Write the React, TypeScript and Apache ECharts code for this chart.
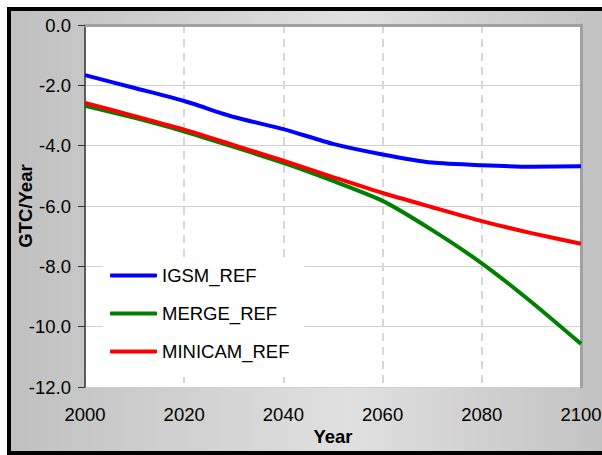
import React, { useEffect, useRef } from "react";
import * as echarts from "echarts";

const years = [2000, 2010, 2020, 2030, 2040, 2050, 2060, 2070, 2080, 2090, 2100];
const igsmRef = [-1.66, -2.09, -2.52, -3.05, -3.45, -3.94, -4.29, -4.56, -4.65, -4.7, -4.68];
const mergeRef = [-2.68, -3.08, -3.53, -4.04, -4.57, -5.17, -5.83, -6.8, -7.9, -9.18, -10.57];
const minicamRef = [-2.58, -3.02, -3.47, -3.98, -4.5, -5.04, -5.57, -6.04, -6.5, -6.9, -7.25];
const seriesNames = ["IGSM_REF", "MERGE_REF", "MINICAM_REF"];
const seriesColors = ["#0000ff", "#008000", "#ff0000"];
const yTicks = { min: -12, max: 0, interval: 2 };
const xTicks = { min: 2000, max: 2100, interval: 20 };

const FONT = "Arial, 'Liberation Sans', sans-serif";

export default function App() {
  const ref = useRef<HTMLDivElement>(null);
  useEffect(() => {
    if (!ref.current) return;
    const chart = echarts.init(ref.current, null, { renderer: "svg" });
    const allData = [igsmRef, mergeRef, minicamRef];
    chart.setOption({
      animation: false,
      backgroundColor: "transparent",
      grid: {
        left: 85,
        top: 25,
        width: 496,
        height: 362,
        containLabel: false,
        outerBoundsMode: "none",
        show: true,
        backgroundColor: "#ffffff",
        borderWidth: 0,
      },
      legend: {
        orient: "vertical",
        left: 103,
        top: 257,
        padding: [9, 15, 16, 7],
        backgroundColor: "#ffffff",
        itemGap: 19,
        itemWidth: 47,
        itemHeight: 4,
        itemTextGap: 3,
        icon: "roundRect",
        data: seriesNames,
        textStyle: { fontFamily: FONT, fontSize: 18.5, color: "#000", lineHeight: 19 },
      },
      xAxis: [
        {
          type: "value",
          min: xTicks.min,
          max: xTicks.max,
          interval: xTicks.interval,
          name: "Year",
          nameLocation: "middle",
          nameGap: 40,
          nameMoveOverlap: false,
          nameTextStyle: { fontFamily: FONT, fontSize: 18.5, fontWeight: "bold", color: "#000" },
          axisLine: { show: true, lineStyle: { color: "#a0a0a0", width: 2 } },
          axisTick: { show: false },
          axisLabel: {
            fontFamily: FONT,
            fontSize: 18.5,
            color: "#000",
            margin: 18,
            formatter: (v: number) => String(v),
          },
          splitLine: { show: true, lineStyle: { color: "#d8d8d8", width: 2, type: [8, 6] } },
        },
        {
          type: "value",
          position: "top",
          min: xTicks.min,
          max: xTicks.max,
          axisLine: { show: true, lineStyle: { color: "#a0a0a0", width: 3 } },
          axisTick: { show: false },
          axisLabel: { show: false },
          splitLine: { show: false },
        },
      ],
      yAxis: [
        {
          type: "value",
          min: yTicks.min,
          max: yTicks.max,
          interval: yTicks.interval,
          name: "GTC/Year",
          nameLocation: "middle",
          nameGap: 50,
          nameMoveOverlap: false,
          nameTextStyle: { fontFamily: FONT, fontSize: 18.5, fontWeight: "bold", color: "#000" },
          axisLine: { show: true, lineStyle: { color: "#303030", width: 1.5 } },
          axisTick: { show: true, length: 7, lineStyle: { color: "#303030" } },
          axisLabel: {
            fontFamily: FONT,
            fontSize: 18.5,
            color: "#000",
            margin: 14,
            formatter: (v: number) => v.toFixed(1),
          },
          splitLine: { show: true, lineStyle: { color: "#d0d0d0", width: 1 } },
        },
        {
          type: "value",
          position: "right",
          min: yTicks.min,
          max: yTicks.max,
          axisLine: { show: true, lineStyle: { color: "#a0a0a0", width: 3 } },
          axisTick: { show: false },
          axisLabel: { show: false },
          splitLine: { show: false },
        },
      ],
      series: seriesNames.map((name, i) => ({
        name,
        type: "line",
        xAxisIndex: 0,
        yAxisIndex: 0,
        smooth: 0.2,
        showSymbol: false,
        symbol: "none",
        color: seriesColors[i],
        lineStyle: { color: seriesColors[i], width: 4 },
        data: years.map((y, j) => [y, allData[i][j]]),
      })),
    });
    return () => chart.dispose();
  }, []);

  return (
    <div style={{ position: "absolute", left: 0, top: 0, width: 602, height: 455, background: "#ffffff", overflow: "hidden" }}>
      <div
        style={{
          position: "absolute",
          left: 7,
          top: 7,
          width: 620,
          height: 448,
          boxSizing: "border-box",
          borderTop: "4px solid #000",
          borderLeft: "4px solid #000",
          borderBottom: "4px solid #000",
          background: "linear-gradient(to right, #c0c0c0 0%, #e0e0e0 55%, #c2c2c2 96%)",
        }}
      />
      <div ref={ref} style={{ position: "absolute", left: 0, top: 0, width: 602, height: 455 }} />
    </div>
  );
}
